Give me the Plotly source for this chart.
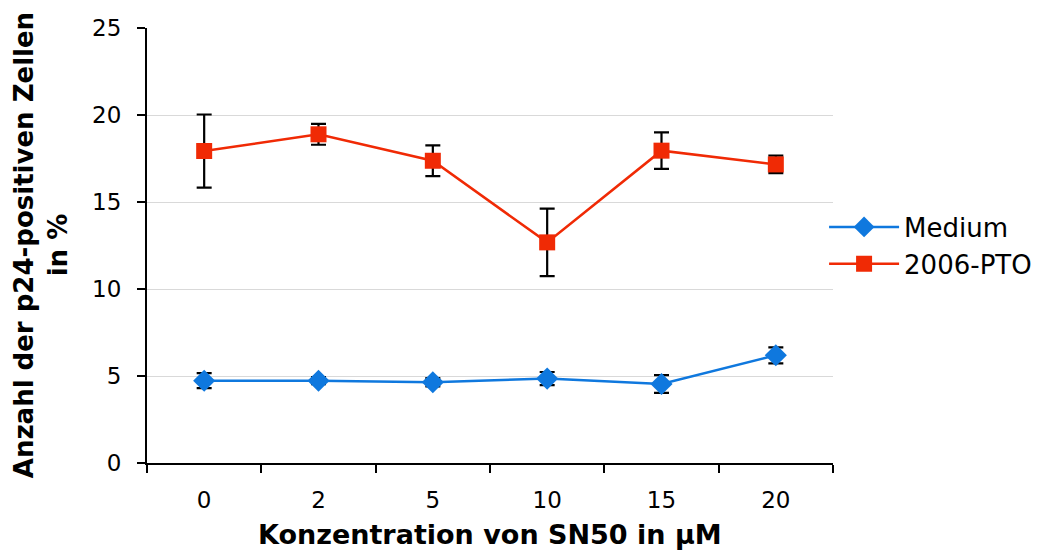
import plotly.graph_objects as go

categories = ["0", "2", "5", "10", "15", "20"]
medium = [4.73, 4.73, 4.64, 4.85, 4.54, 6.19]
medium_err = [0.43, 0.2, 0.24, 0.38, 0.51, 0.46]
pto = [17.93, 18.89, 17.37, 12.68, 17.95, 17.16]
pto_err = [2.1, 0.6, 0.88, 1.94, 1.05, 0.5]
y_ticks = [0, 5, 10, 15, 20, 25]

FONT = "Verdana, DejaVu Sans, sans-serif"
BLUE = "#0F78DE"
RED = "#F02A05"

fig = go.Figure()
fig.add_trace(go.Scatter(
    x=categories, y=medium, name="Medium", mode="lines+markers",
    line=dict(color=BLUE, width=2.5),
    marker=dict(symbol="diamond", size=17, color=BLUE),
    error_y=dict(type="data", array=medium_err, visible=True, color="black", thickness=2.2, width=7.5),
))
fig.add_trace(go.Scatter(
    x=categories, y=pto, name="2006-PTO", mode="lines+markers",
    line=dict(color=RED, width=2.5),
    marker=dict(symbol="square", size=16, color=RED),
    error_y=dict(type="data", array=pto_err, visible=True, color="black", thickness=2.2, width=7.5),
))

fig.update_layout(
    width=1056, height=552,
    margin=dict(l=147, r=223, t=28, b=89),
    paper_bgcolor="white", plot_bgcolor="white",
    font=dict(family=FONT, color="black", size=23),
    showlegend=True,
    legend=dict(x=0.987, y=0.5, xanchor="left", yanchor="middle", itemwidth=70,
                font=dict(size=26, family=FONT), tracegroupgap=0,
                bgcolor="rgba(0,0,0,0)"),
    xaxis=dict(type="category", range=[-0.5, 5.5], showline=True, linecolor="black", linewidth=2,
               ticks="outside", ticklen=8, tickwidth=2, tickcolor="black", tickson="boundaries",
               showgrid=False, zeroline=False, ticklabelstandoff=15,
               tickfont=dict(size=23, family=FONT)),
    yaxis=dict(range=[0, 25], tickvals=y_ticks, showline=True, linecolor="black", linewidth=2,
               ticks="outside", ticklen=8, tickwidth=2, tickcolor="black",
               showgrid=True, gridcolor="#d9d9d9", gridwidth=1, zeroline=False,
               ticklabelstandoff=11, tickfont=dict(size=23, family=FONT)),
    annotations=[
        dict(text="<b>Anzahl der p24-positiven Zellen<br>in %</b>", textangle=-90,
             xref="paper", yref="paper", x=-0.155, y=0.5, xanchor="center", yanchor="middle",
             showarrow=False, font=dict(size=26, family=FONT)),
        dict(text="<b>Konzentration von SN50 in µM</b>",
             xref="paper", yref="paper", x=0.5, y=-0.165, xanchor="center", yanchor="middle",
             showarrow=False, font=dict(size=27, family=FONT)),
    ],
)

fig.write_html("out.html")
